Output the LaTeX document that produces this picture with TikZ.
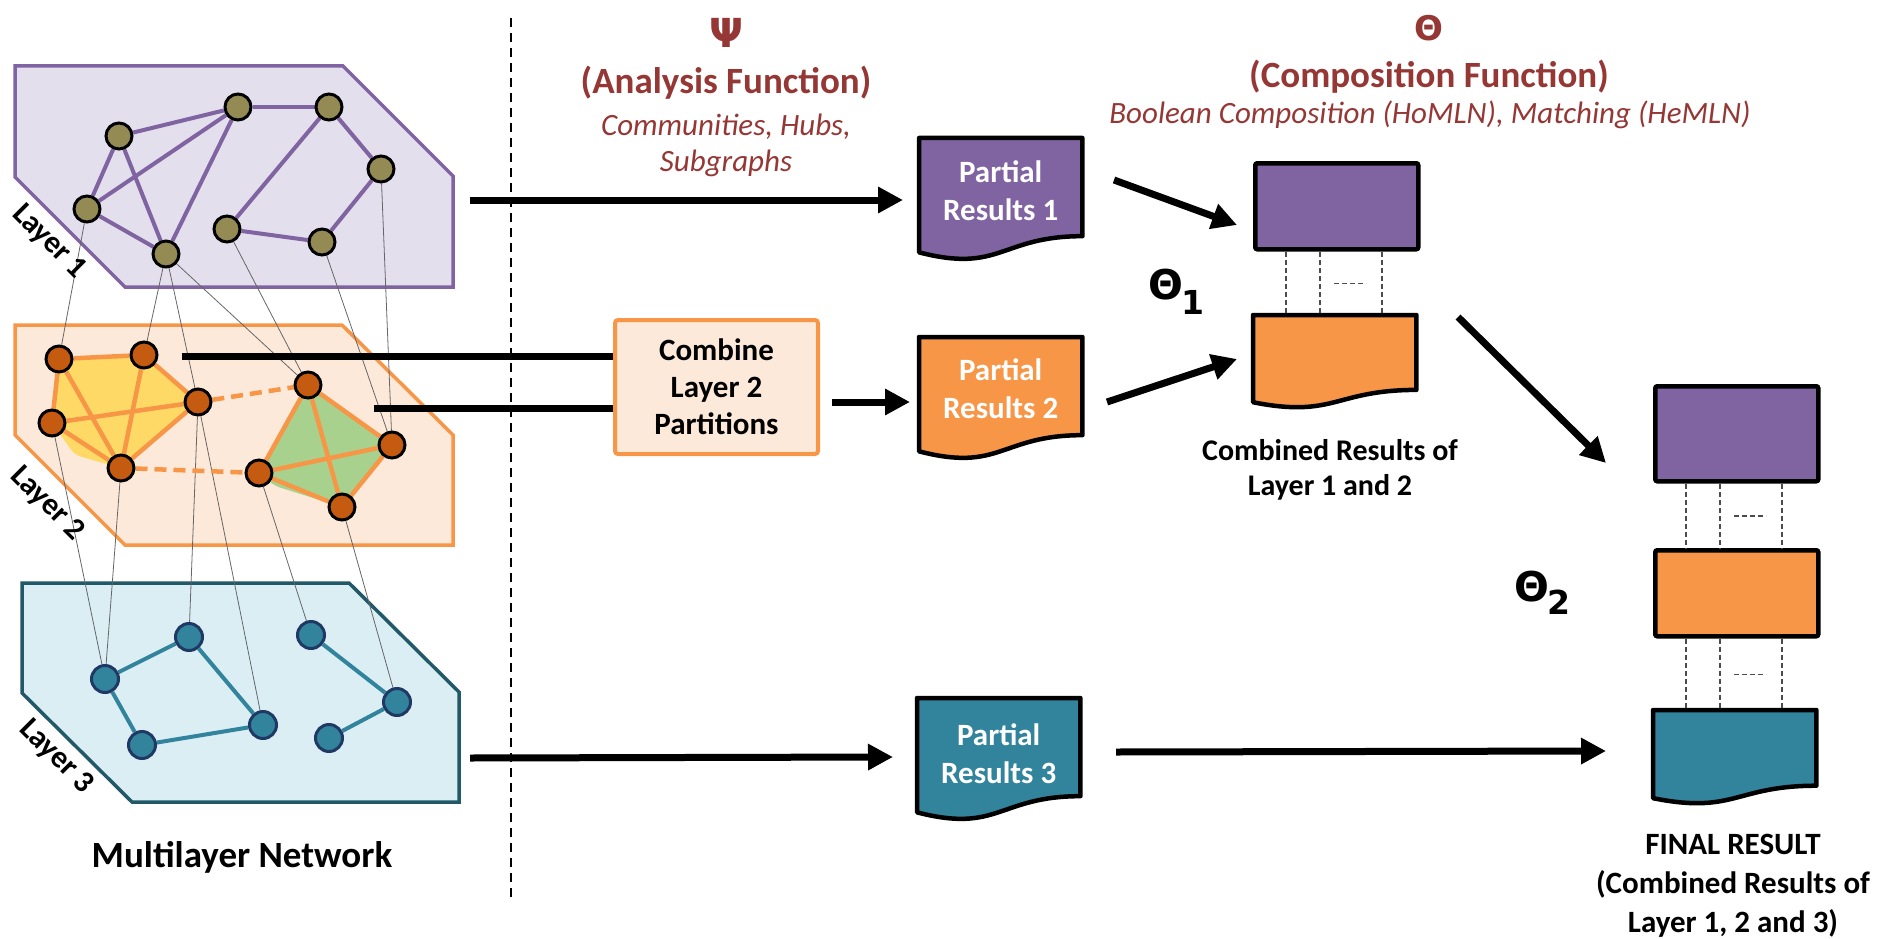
\documentclass[tikz,border=0pt]{standalone}
\usepackage{fontspec}
\setmainfont{Carlito}
\newfontfamily\grk{DejaVu Sans}
\usetikzlibrary{arrows.meta,calc}

\definecolor{purp}{HTML}{8064A2}
\definecolor{purpfill}{HTML}{E4DFEC}
\definecolor{olive}{HTML}{948A54}
\definecolor{orng}{HTML}{F79646}
\definecolor{orngfill}{HTML}{FDE9D9}
\definecolor{rust}{HTML}{C55A11}
\definecolor{yel}{HTML}{FFD966}
\definecolor{grn}{HTML}{A9D18E}
\definecolor{tealc}{HTML}{31849B}
\definecolor{tealfill}{HTML}{DBEEF4}
\definecolor{tealedge}{HTML}{215968}
\definecolor{navy}{HTML}{1F3864}
\definecolor{dred}{HTML}{953735}

\newcommand\fs[2]{\fontsize{#1}{#2}\selectfont}
% flowchart "document" outline drawn over a named rectangle node
\newcommand\docfill[2]{%
  \path[draw=black, line width=4.5pt, line join=round, fill=#2]
    (#1.north west) -- (#1.north east) -- ($(#1.north east)!0.802!(#1.south east)$)
    .. controls ($(#1.north)!0.802!(#1.south)$) and ($(#1.north)!1.1075!(#1.south)$) ..
    ($(#1.north west)!0.934!(#1.south west)$) -- cycle;}

\pgfdeclarelayer{back}
\pgfdeclarelayer{mid}
\pgfsetlayers{back,mid,main}

\begin{document}
\begin{tikzpicture}[x=1pt,y=-1pt,
  layerpoly/.style={line width=3.5pt, line join=miter},
  v1/.style={circle, draw=black, line width=3pt, fill=olive, minimum size=26pt, inner sep=0pt},
  v2/.style={v1, fill=rust},
  v3/.style={circle, draw=navy, line width=3pt, fill=tealc, minimum size=27pt, inner sep=0pt},
  e1/.style={purp, line width=4pt},
  e2/.style={orng, line width=4.5pt},
  e2d/.style={e2, dash pattern=on 12pt off 7pt},
  e3/.style={tealc, line width=4pt},
  ilink/.style={black!60, line width=0.8pt},
  bar/.style={black, line width=7pt},
  arr/.style={bar, -{Triangle[length=25pt,width=25pt]}},
  docbox/.style={rectangle, minimum width=163pt, minimum height=122pt, inner sep=0pt, anchor=north west},
  resbox/.style={rectangle, draw=black, line width=4.5pt, rounded corners=2pt, minimum width=163pt, inner sep=0pt, anchor=north west},
  boxtext/.style={text=white, font=\bfseries\fs{31}{38}, align=center},
  sep/.style={black!70, line width=1.5pt, dash pattern=on 5pt off 3pt},
  head/.style={text=dred, font=\bfseries\fs{37}{44}},
  sub/.style={text=dred, font=\itshape\fs{31}{36}, align=center},
  lbl/.style={font=\bfseries\fs{31}{37}, align=center},
  layerlbl/.style={rotate=-45, font=\bfseries\fs{31}{33}}
]
\useasboundingbox (0,0) rectangle (1881,939);

% ---------- layer 1 vertices ----------
\node[v1] (a) at (119,136) {};
\node[v1] (b) at (238,107) {};
\node[v1] (c) at (329,107) {};
\node[v1] (d) at (381,169) {};
\node[v1] (e) at (87,209) {};
\node[v1] (f) at (166,254) {};
\node[v1] (g) at (227,229) {};
\node[v1] (h) at (322,242) {};
% ---------- layer 2 vertices ----------
\node[v2] (A) at (59,359) {};
\node[v2] (B) at (144,355) {};
\node[v2] (C) at (198,402) {};
\node[v2] (D) at (52,423) {};
\node[v2] (E) at (121,468) {};
\node[v2] (F) at (308,385) {};
\node[v2] (G) at (392,445) {};
\node[v2] (H) at (259,473) {};
\node[v2] (I) at (342,507) {};
% ---------- layer 3 vertices ----------
\node[v3] (p) at (105,679) {};
\node[v3] (q) at (189,637) {};
\node[v3] (r) at (142,745) {};
\node[v3] (s) at (263,725) {};
\node[v3] (t) at (311,635) {};
\node[v3] (u) at (397,702) {};
\node[v3] (v) at (329,738) {};

\begin{pgfonlayer}{back}
  \draw[layerpoly, draw=purp, fill=purpfill]
    (15,66) -- (343,66) -- (453,176) -- (453,287) -- (125,287) -- (15,177) -- cycle;
  \draw[layerpoly, draw=orng, fill=orngfill]
    (15,325) -- (342,325) -- (453,435) -- (453,545) -- (125,545) -- (15,435) -- cycle;
  \draw[layerpoly, draw=tealedge, fill=tealfill]
    (22,583) -- (349,583) -- (459,692) -- (459,802) -- (132,802) -- (22,693) -- cycle;
  % communities inside layer 2
  \fill[yel, rounded corners=6pt] (A.center) -- (B.center) -- (C.center) -- (E.center)
    -- (75,455) -- (D.center) -- cycle;
  \fill[grn, rounded corners=6pt] (F.center) -- (G.center) -- (I.center) -- (275,486) -- (H.center) -- cycle;
\end{pgfonlayer}

\begin{pgfonlayer}{mid}
  % inter-layer links
  \foreach \x/\y in {e/A, f/B, f/C, f/F, g/F, h/G, d/G, D/p, E/p, C/q, C/s, H/t, I/u}
    \draw[ilink] (\x) -- (\y);
  % layer 1 edges
  \foreach \x/\y in {a/b, a/e, a/f, b/e, b/f, e/f, b/c, c/g, c/d, d/h, g/h}
    \draw[e1] (\x) -- (\y);
  % layer 2 edges
  \foreach \x/\y in {A/B, A/D, A/E, B/E, B/C, D/C, D/E, E/C, F/G, F/H, F/I, H/G, H/I, G/I}
    \draw[e2] (\x) -- (\y);
  \draw[e2d] (C) -- (F);
  \draw[e2d] (E) -- (H);
  % layer 3 edges
  \foreach \x/\y in {p/q, p/r, r/s, q/s, t/u, u/v}
    \draw[e3] (\x) -- (\y);
\end{pgfonlayer}

% layer labels
\node[layerlbl] (lab1) at (49,242) {Layer 1};
\node[layerlbl] (lab2) at (47,504) {Layer 2};
\node[layerlbl] (lab3) at (56,757) {Layer 3};
\node[font=\bfseries\fs{37}{44}] (mln) at (242,857) {Multilayer Network};

% separator
\coordinate (sepTop) at (511,18);
\coordinate (sepBot) at (511,897);
\draw[line width=2.5pt, dash pattern=on 9pt off 6pt] (sepTop) -- (sepBot);

% headers
\node[text=dred, font=\grk\bfseries\fs{40}{40}] (psi) at (726,33) {Ψ};
\node[head] (anf) at (726,83) {(Analysis Function)};
\node[sub] (anx) at (726,145) {Communities, Hubs,\\Subgraphs};
\node[text=dred, font=\grk\bfseries\fs{34}{34}] (theta) at (1429,28) {Θ};
\node[head] (cmf) at (1429,77) {(Composition Function)};
\node[sub, font=\itshape\fs{31}{36}] (cmx) at (1430,115) {Boolean Composition (HoMLN), Matching (HeMLN)};

% combine box
\node[draw=orng, fill=orngfill, line width=4pt, rounded corners=3pt, minimum width=203pt,
      minimum height=134pt, anchor=north west, lbl] (comb) at (613,318) {Combine\\Layer 2\\Partitions};
\coordinate (l2a) at (182,356);
\coordinate (l2b) at (374,408);
\draw[bar] (l2a) -- (l2a -| comb.west);
\draw[bar] (l2b) -- (l2b -| comb.west);

% partial results
\node[docbox] (p1) at (919,138) {};
\docfill{p1}{purp}
\node[boxtext] (p1t) at ([yshift=8pt]p1.center) {Partial\\Results 1};
\node[docbox] (p2) at (919,337) {};
\docfill{p2}{orng}
\node[boxtext] (p2t) at ([yshift=9pt]p2.center) {Partial\\Results 2};
\node[docbox] (p3) at (917,698) {};
\docfill{p3}{tealc}
\node[boxtext] (p3t) at ([yshift=5pt]p3.center) {Partial\\Results 3};

% combined results of layers 1 and 2
\node[resbox, fill=purp, minimum height=86pt] (c1a) at (1253,161) {};
\node[docbox, minimum height=93pt] (c1b) at (1253,315) {};
\docfill{c1b}{orng}
\node[lbl, font=\bfseries\fs{30}{35}] (c1t) at (1330,470) {Combined Results of\\Layer 1 and 2};

% final result
\node[resbox, fill=purp, minimum height=95pt] (fa) at (1653,384) {};
\node[resbox, fill=orng, minimum height=86pt] (fb) at (1653,548) {};
\node[docbox, minimum height=94pt] (fc) at (1653,710) {};
\docfill{fc}{tealc}
\node[lbl, font=\bfseries\fs{31}{39}] (ft) at (1733,886) {FINAL RESULT\\(Combined Results of\\Layer 1, 2 and 3)};

% dashed alignment guides between stacked results
\foreach \top/\bot in {c1a/c1b, fa/fb, fb/fc} {
  \foreach \dx in {33,67,129}
    \draw[sep] ([xshift=\dx pt]\top.south west) -- ([xshift=\dx pt]\top.south west |- \bot.north);
  \draw[sep] ($(\top.south west)!0.5!(\top.south west |- \bot.north) + (81,0)$)
          -- ++(32,0);
}

% theta labels
\node[font=\grk\bfseries\fs{41}{41}] (th1) at (1166,285) {Θ};
\node[font=\grk\bfseries\fs{33}{33}] (th1s) at (1193,302) {1};
\node[font=\grk\bfseries\fs{41}{41}] (th2) at (1532,587) {Θ};
\node[font=\grk\bfseries\fs{33}{33}] (th2s) at (1559,602) {2};

% arrows
\coordinate (l1out) at (470,200);
\coordinate (p1in) at (903,200);
\coordinate (combout) at (832,402);
\coordinate (p2in) at (910,402);
\coordinate (l3out) at (470,758);
\coordinate (p3in) at (893,757);
\coordinate (p1out) at (1114,180);
\coordinate (c1ain) at (1237,225);
\coordinate (p2out) at (1107,402);
\coordinate (c1bin) at (1237,359);
\coordinate (c1out) at (1458,317);
\coordinate (fain) at (1606,463);
\coordinate (p3out) at (1116,752);
\coordinate (fcin) at (1606,751);
\draw[arr] (l1out) -- (p1in);
\draw[arr] (combout) -- (p2in);
\draw[arr] (l3out) -- (p3in);
\draw[arr] (p1out) -- (c1ain);
\draw[arr] (p2out) -- (c1bin);
\draw[arr] (c1out) -- (fain);
\draw[arr] (p3out) -- (fcin);
\end{tikzpicture}
\end{document}
